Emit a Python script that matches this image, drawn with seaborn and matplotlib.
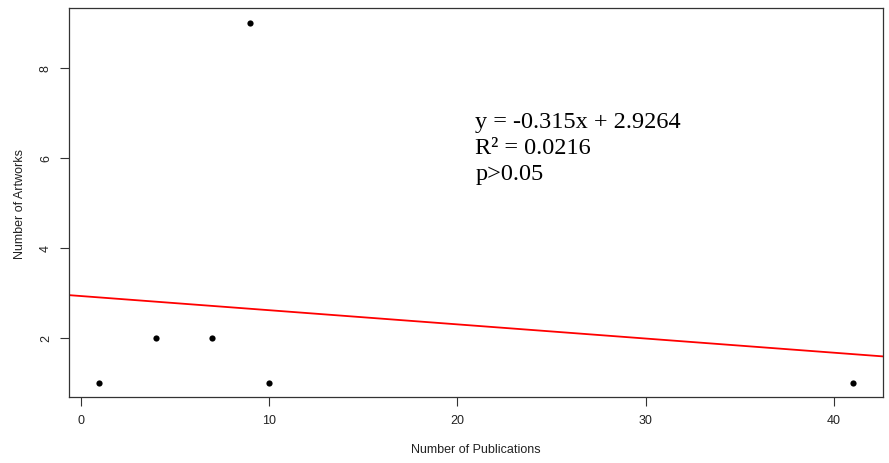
import numpy as np
import pandas as pd
import matplotlib
matplotlib.use("Agg")
import matplotlib.pyplot as plt
import seaborn as sns

# data
publications = [1, 4, 7, 9, 10, 41]
artworks = [1, 2, 2, 9, 1, 1]
intercept = 2.9264
slope = -0.0315
eq_lines = ["y = -0.315x + 2.9264", "R\u00b2 = 0.0216", "p>0.05"]
x_ticks = [0, 10, 20, 30, 40]
y_ticks = [2, 4, 6, 8]

df = pd.DataFrame({"Publications": publications, "Artworks": artworks})

sns.set_style("ticks")
plt.rcParams["font.family"] = ["Liberation Sans", "DejaVu Sans"]

fig = plt.figure(figsize=(8.89, 4.64), dpi=100)
ax = fig.add_axes([0.078, 0.142, 0.9153, 0.838])

sns.scatterplot(data=df, x="Publications", y="Artworks", ax=ax,
                color="black", s=20, edgecolor="black", linewidth=0, zorder=3)

# R-style axis padding (4%)
xmin, xmax = min(publications), max(publications)
ymin, ymax = min(artworks), max(artworks)
xpad = (xmax - xmin) * 0.04
ypad = (ymax - ymin) * 0.04
ax.set_xlim(xmin - xpad, xmax + xpad)
ax.set_ylim(ymin - ypad, ymax + ypad)

# regression line across the whole panel (like abline)
xs = np.array(ax.get_xlim())
ax.plot(xs, intercept + slope * xs, color="red", lw=1.3, zorder=2)

ax.text(20.95, 7.03, "\n".join(eq_lines), family=["Liberation Serif", "DejaVu Serif"],
        fontsize=17.5, va="top", ha="left", linespacing=1.3, color="black")

ax.set_xticks(x_ticks)
ax.set_yticks(y_ticks)
ax.tick_params(axis="both", length=6.5, width=0.8, color="#333333",
               labelsize=9, labelcolor="#222222", pad=6)
for lab in ax.get_yticklabels():
    lab.set_rotation(90)
    lab.set_va("center")
for sp in ax.spines.values():
    sp.set_visible(True)
    sp.set_color("#333333")
    sp.set_linewidth(0.9)

ax.set_xlabel("Number of Publications", fontsize=9, color="#222222", labelpad=12)
ax.set_ylabel("Number of Artworks", fontsize=9, color="#222222", labelpad=10)

fig.savefig("out.png", dpi=100)
